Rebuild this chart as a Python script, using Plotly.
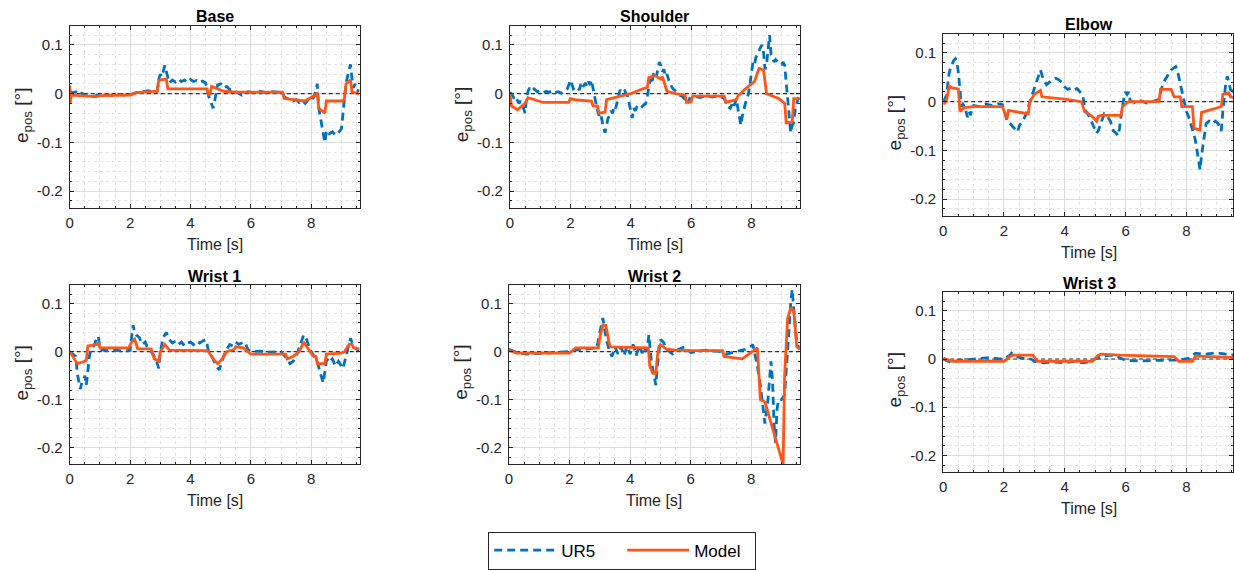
import plotly.graph_objects as go

# ---------------- data ----------------
titles = ["Base", "Shoulder", "Elbow", "Wrist 1", "Wrist 2", "Wrist 3"]

base_t_ur5 = [0.0,0.1,0.2,0.3,0.4,0.5,0.6,0.7,0.8,0.9,1.0,1.2,1.4,1.6,1.8,2.0,2.2,2.4,2.6,2.8,2.9,2.95,3.0,3.05,3.1,3.15,3.2,3.25,3.3,3.4,3.5,3.6,3.7,3.8,3.9,4.0,4.1,4.2,4.3,4.4,4.5,4.55,4.6,4.65,4.7,4.75,4.8,4.85,4.9,5.0,5.1,5.2,5.3,5.4,5.5,5.7,5.9,6.1,6.3,6.5,6.7,6.9,7.05,7.1,7.2,7.3,7.4,7.5,7.6,7.7,7.8,7.9,8.0,8.1,8.15,8.2,8.25,8.3,8.35,8.4,8.45,8.5,8.55,8.6,8.7,8.8,8.9,9.0,9.05,9.1,9.15,9.2,9.25,9.3,9.35,9.4,9.45,9.5,9.6]
base_ur5 = [0.005,0.002,0.004,-0.002,0.001,-0.003,-0.005,-0.002,-0.006,-0.003,-0.004,-0.002,-0.004,-0.001,-0.003,-0.002,0.002,0.004,0.006,0.003,0.006,0.03,0.04,0.035,0.05,0.058,0.045,0.03,0.022,0.028,0.024,0.03,0.025,0.028,0.023,0.029,0.025,0.027,0.023,0.026,0.022,0.01,-0.005,-0.012,-0.02,-0.03,-0.015,0.005,0.018,0.02,0.012,0.015,0.008,0.01,0.004,-0.003,0.004,0.002,0.005,0.002,0.004,0.003,0.004,-0.006,-0.01,-0.012,-0.015,-0.012,-0.018,-0.014,-0.02,-0.012,-0.015,-0.005,0.01,0.02,-0.03,-0.05,-0.07,-0.085,-0.1,-0.08,-0.075,-0.082,-0.078,-0.085,-0.08,-0.072,-0.04,-0.01,0.02,0.035,0.05,0.06,0.03,0.012,0.02,0.008,0.005]
base_t_model = [0.0,0.01,0.05,0.5,0.9,1.0,1.5,2.0,2.2,2.9,2.95,3.2,3.25,4.55,4.6,4.65,4.7,5.0,5.1,5.5,7.05,7.1,7.8,8.2,8.25,8.45,8.5,9.05,9.1,9.15,9.3,9.35,9.6]
base_model = [0.017,-0.02,-0.003,-0.004,-0.006,-0.004,-0.003,-0.003,0.002,0.005,0.028,0.03,0.01,0.01,-0.003,0.0,0.015,0.008,0.005,0.003,0.003,-0.01,-0.015,0.0,-0.03,-0.04,-0.015,-0.015,-0.01,0.02,0.028,0.003,0.0]

shoulder_t_ur5 = [0.0,0.05,0.1,0.15,0.2,0.3,0.35,0.4,0.45,0.5,0.55,0.6,0.65,0.7,0.8,0.9,1.0,1.1,1.2,1.3,1.4,1.5,1.6,1.7,1.8,1.9,1.95,2.0,2.05,2.1,2.2,2.3,2.35,2.4,2.5,2.55,2.6,2.65,2.7,2.75,2.8,2.85,2.9,2.95,3.0,3.05,3.1,3.15,3.2,3.25,3.3,3.35,3.4,3.45,3.5,3.55,3.6,3.65,3.7,3.8,3.9,3.95,4.0,4.05,4.1,4.15,4.2,4.3,4.4,4.5,4.55,4.6,4.65,4.7,4.75,4.8,4.85,4.9,4.95,5.0,5.05,5.1,5.15,5.2,5.3,5.4,5.5,5.6,5.7,5.8,5.85,5.9,5.95,6.0,6.1,6.3,6.5,6.7,6.9,7.1,7.15,7.2,7.3,7.35,7.4,7.45,7.5,7.55,7.6,7.65,7.7,7.75,7.8,7.85,7.9,7.95,8.0,8.05,8.1,8.15,8.2,8.25,8.3,8.35,8.4,8.45,8.5,8.55,8.6,8.65,8.7,8.75,8.8,8.9,9.0,9.05,9.1,9.15,9.2,9.25,9.3,9.35,9.4,9.45,9.5,9.55,9.6]
shoulder_ur5 = [0.003,0.0,-0.005,-0.012,-0.008,-0.02,-0.015,-0.025,-0.03,-0.04,-0.01,0.005,0.012,0.006,0.01,0.004,0.006,0.002,0.005,0.003,0.006,0.002,0.004,0.001,0.006,0.01,0.018,0.028,0.02,0.01,0.015,0.008,0.02,0.012,0.022,0.015,0.025,0.018,0.028,0.01,-0.01,-0.02,-0.035,-0.045,-0.04,-0.06,-0.07,-0.08,-0.06,-0.05,-0.045,-0.035,-0.04,-0.025,-0.03,-0.015,-0.005,0.008,0.002,0.006,-0.005,-0.02,-0.035,-0.05,-0.03,-0.035,-0.028,-0.032,-0.025,-0.02,-0.005,0.01,0.03,0.02,0.04,0.045,0.035,0.05,0.065,0.058,0.045,0.05,0.035,0.04,0.02,0.01,0.005,-0.002,-0.005,-0.012,-0.02,-0.018,-0.01,-0.012,-0.005,-0.008,-0.004,-0.007,-0.004,-0.01,-0.02,-0.025,-0.03,-0.022,-0.03,-0.02,-0.01,-0.03,-0.05,-0.065,-0.045,-0.03,-0.02,-0.01,0.0,0.02,0.04,0.065,0.06,0.075,0.08,0.09,0.095,0.1,0.085,0.05,0.06,0.09,0.12,0.08,0.07,0.065,0.07,0.063,0.06,0.065,0.058,0.02,-0.02,-0.05,-0.08,-0.065,-0.06,-0.03,-0.02,-0.01,-0.012]
shoulder_t_model = [0.0,0.05,0.25,0.5,0.6,0.8,1.1,1.95,2.0,2.2,2.7,2.75,2.9,2.95,3.15,3.2,4.0,4.4,4.55,4.6,4.8,5.0,5.05,5.2,5.5,5.8,5.85,6.0,6.05,7.1,7.15,7.5,7.55,7.8,8.0,8.1,8.25,8.4,8.5,8.9,9.1,9.15,9.35,9.4,9.6]
shoulder_model = [0.0,-0.025,-0.033,-0.02,-0.008,-0.012,-0.018,-0.018,-0.01,-0.013,-0.015,-0.025,-0.025,-0.04,-0.038,-0.012,0.0,0.01,0.013,0.033,0.037,0.03,0.035,0.005,0.0,-0.003,-0.018,-0.017,-0.005,-0.005,-0.018,-0.012,-0.005,0.01,0.02,0.025,0.052,0.048,0.0,-0.01,-0.02,-0.06,-0.058,-0.01,-0.01]

elbow_t_ur5 = [0.0,0.05,0.1,0.15,0.2,0.25,0.3,0.35,0.4,0.45,0.5,0.55,0.6,0.65,0.7,0.75,0.8,0.85,0.9,0.95,1.0,1.2,1.4,1.6,1.8,1.95,2.0,2.1,2.2,2.3,2.4,2.45,2.5,2.6,2.7,2.75,2.8,2.9,2.95,3.05,3.1,3.2,3.25,3.3,3.4,3.5,3.6,3.7,3.8,3.9,4.0,4.1,4.2,4.3,4.4,4.5,4.6,4.65,4.7,4.8,4.9,4.95,5.05,5.1,5.15,5.25,5.3,5.4,5.5,5.6,5.7,5.75,5.8,5.85,5.9,5.95,6.0,6.05,6.1,6.15,6.3,6.5,6.7,6.9,7.1,7.2,7.3,7.35,7.45,7.5,7.6,7.65,7.7,7.75,7.8,7.85,7.9,8.0,8.1,8.2,8.3,8.35,8.4,8.45,8.5,8.55,8.6,8.65,8.75,8.85,8.95,9.05,9.1,9.15,9.2,9.25,9.3,9.35,9.4,9.45,9.55]
elbow_ur5 = [0.0,0.005,0.012,0.035,0.06,0.07,0.078,0.085,0.088,0.08,0.06,0.03,-0.01,-0.005,-0.01,-0.02,-0.032,-0.02,-0.028,-0.012,-0.008,-0.01,-0.005,-0.008,-0.004,-0.006,-0.015,-0.04,-0.045,-0.052,-0.058,-0.062,-0.05,-0.04,-0.03,-0.02,-0.01,0.01,0.02,0.04,0.05,0.065,0.055,0.045,0.035,0.04,0.045,0.048,0.045,0.04,0.03,0.025,0.028,0.024,0.027,0.02,0.01,-0.01,-0.02,-0.03,-0.045,-0.05,-0.065,-0.06,-0.05,-0.03,-0.025,-0.03,-0.04,-0.06,-0.065,-0.07,-0.055,-0.03,-0.01,0.01,0.02,0.015,0.02,0.003,-0.002,0.002,-0.003,0.0,0.005,0.03,0.045,0.05,0.06,0.065,0.07,0.072,0.065,0.05,0.035,0.02,0.005,-0.02,-0.035,-0.06,-0.08,-0.1,-0.12,-0.14,-0.11,-0.09,-0.07,-0.045,-0.04,-0.045,-0.04,-0.045,-0.055,-0.06,-0.02,0.01,0.04,0.052,0.04,0.025,0.02]
elbow_t_model = [0.0,0.1,0.2,0.3,0.5,0.55,0.7,1.0,1.95,2.1,2.15,2.8,2.85,3.0,3.2,3.25,4.0,4.55,4.65,4.9,5.05,5.1,5.2,5.85,5.9,6.1,7.1,7.15,7.5,7.6,7.8,7.85,8.2,8.25,8.45,8.5,8.9,9.15,9.2,9.4,9.45,9.6]
elbow_model = [-0.005,0.0,0.032,0.028,0.026,-0.02,-0.012,-0.01,-0.01,-0.035,-0.018,-0.025,0.0,0.015,0.023,0.01,0.005,0.0,-0.02,-0.03,-0.04,-0.03,-0.028,-0.028,-0.01,0.0,0.0,0.025,0.025,0.01,0.01,-0.01,-0.01,-0.055,-0.058,-0.022,-0.015,-0.01,0.015,0.018,0.01,0.008]

wrist1_t_ur5 = [0.0,0.1,0.2,0.25,0.3,0.35,0.4,0.45,0.5,0.55,0.6,0.65,0.7,0.8,0.85,0.9,0.95,1.0,1.2,1.5,1.8,2.0,2.05,2.1,2.15,2.2,2.3,2.4,2.5,2.6,2.7,2.8,2.9,2.95,3.0,3.1,3.2,3.3,3.4,3.5,3.6,3.7,3.8,3.9,4.0,4.1,4.2,4.3,4.4,4.5,4.55,4.6,4.75,4.85,4.95,5.05,5.15,5.3,5.4,5.5,5.6,5.7,5.8,5.9,6.0,6.3,6.6,7.0,7.2,7.3,7.4,7.5,7.65,7.75,7.85,7.95,8.1,8.2,8.3,8.4,8.5,8.6,8.65,8.7,8.8,8.9,8.95,9.05,9.15,9.25,9.3,9.4,9.5,9.6]
wrist1_ur5 = [0.0,-0.005,-0.01,-0.045,-0.06,-0.078,-0.065,-0.06,-0.05,-0.07,-0.04,-0.01,0.005,0.012,0.02,0.03,0.032,0.005,0.002,0.003,0.001,0.003,0.03,0.055,0.04,0.035,0.03,0.015,0.02,0.005,0.0,-0.01,-0.025,-0.035,0.0,0.03,0.04,0.025,0.018,0.022,0.015,0.02,0.012,0.018,0.02,0.015,0.022,0.018,0.022,0.025,0.015,0.0,-0.015,-0.03,-0.038,-0.02,0.0,0.015,0.012,0.02,0.015,0.018,0.02,0.005,0.0,0.001,-0.001,0.0,-0.015,-0.025,-0.02,-0.01,0.02,0.035,0.025,0.005,-0.01,-0.02,-0.045,-0.065,-0.02,-0.012,-0.018,-0.015,-0.03,-0.02,-0.025,-0.035,-0.01,0.02,0.028,0.01,0.005,0.003]
wrist1_t_model = [0.0,0.15,0.25,0.5,0.55,0.6,0.9,0.95,1.0,1.95,2.05,2.15,2.25,2.7,2.8,2.95,3.0,3.15,3.3,4.55,4.6,4.75,4.9,5.05,5.2,5.45,5.5,5.75,5.9,6.0,7.15,7.2,7.4,7.6,7.75,7.9,8.05,8.15,8.2,8.45,8.5,9.0,9.1,9.25,9.35,9.4,9.6]
wrist1_model = [0.0,-0.015,-0.025,-0.02,-0.018,0.012,0.015,0.018,0.008,0.008,0.02,0.026,0.006,0.006,-0.015,-0.02,0.0,0.015,0.003,0.002,0.0,-0.015,-0.025,-0.015,0.0,0.005,0.01,0.008,0.0,-0.005,-0.005,-0.015,-0.01,0.0,0.02,0.005,-0.008,-0.01,-0.025,-0.025,-0.005,-0.003,0.0,0.015,0.015,0.008,0.006]

wrist2_t_ur5 = [0.0,0.3,0.6,1.0,1.5,2.0,2.1,2.5,2.9,3.0,3.1,3.2,3.3,3.4,3.5,3.6,3.7,3.8,3.9,4.0,4.1,4.2,4.3,4.4,4.45,4.55,4.62,4.7,4.8,4.85,4.9,4.95,5.0,5.1,5.2,5.4,5.6,5.8,6.0,6.5,7.0,7.2,7.5,7.8,8.0,8.05,8.1,8.2,8.3,8.4,8.45,8.55,8.6,8.65,8.7,8.75,8.8,8.85,8.9,9.0,9.1,9.15,9.2,9.25,9.3,9.35,9.4,9.45,9.5,9.6]
wrist2_ur5 = [0.005,-0.003,-0.005,-0.003,-0.002,0.0,0.003,0.005,0.008,0.04,0.07,0.03,0.005,-0.01,0.01,-0.005,0.01,-0.008,0.012,-0.005,0.015,-0.008,0.012,-0.003,0.01,0.0,0.035,-0.02,-0.05,-0.07,-0.03,0.0,0.025,0.02,0.005,-0.005,0.005,0.01,-0.002,0.003,0.0,-0.005,0.0,0.005,0.012,0.015,0.0,-0.03,-0.07,-0.12,-0.15,-0.1,-0.05,-0.02,-0.06,-0.15,-0.19,-0.12,-0.1,-0.1,-0.09,-0.05,0.0,0.05,0.1,0.13,0.09,0.05,0.02,0.005]
wrist2_t_model = [0.0,0.25,2.0,2.1,2.2,2.95,3.0,3.1,3.2,3.3,3.35,4.6,4.65,4.75,4.85,4.9,4.95,5.0,5.2,5.5,6.0,7.05,7.1,7.7,8.2,8.3,8.45,9.05,9.1,9.2,9.3,9.4,9.5,9.6]
wrist2_model = [0.003,-0.003,-0.003,0.003,0.008,0.008,0.03,0.055,0.055,0.02,0.01,0.008,-0.03,-0.045,-0.045,-0.01,0.01,0.015,0.005,0.003,0.002,0.002,-0.01,-0.015,0.008,-0.1,-0.105,-0.235,-0.05,0.07,0.09,0.085,0.01,0.005]

wrist3_t_ur5 = [0.0,0.2,0.3,0.5,0.8,1.0,1.3,1.5,1.8,2.0,2.2,2.25,2.4,2.6,2.9,3.0,3.3,3.6,4.0,4.3,4.6,4.8,5.0,5.2,5.5,5.7,6.0,6.5,7.0,7.5,7.8,8.1,8.3,8.6,9.0,9.3,9.6]
wrist3_ur5 = [0.0,-0.005,-0.008,-0.003,-0.001,0.0,0.002,0.003,0.001,0.0,0.008,0.012,0.005,0.002,0.0,-0.005,-0.008,-0.006,-0.008,-0.005,-0.008,-0.006,0.0,0.005,0.008,0.006,-0.003,-0.004,-0.003,-0.002,-0.002,0.002,0.012,0.01,0.013,0.01,0.008]
wrist3_t_model = [0.0,0.3,2.0,2.2,2.3,2.95,3.1,4.9,5.1,5.2,5.8,7.0,7.6,7.75,8.2,8.3,9.6]
wrist3_model = [0.002,-0.005,-0.005,0.005,0.008,0.008,-0.005,-0.005,0.008,0.01,0.008,0.006,0.005,-0.005,-0.005,0.006,0.003]

ur5_times = [base_t_ur5, shoulder_t_ur5, elbow_t_ur5, wrist1_t_ur5, wrist2_t_ur5, wrist3_t_ur5]
ur5_values = [base_ur5, shoulder_ur5, elbow_ur5, wrist1_ur5, wrist2_ur5, wrist3_ur5]
model_times = [base_t_model, shoulder_t_model, elbow_t_model, wrist1_t_model, wrist2_t_model, wrist3_t_model]
model_values = [base_model, shoulder_model, elbow_model, wrist1_model, wrist2_model, wrist3_model]

x_ticks = [0, 2, 4, 6, 8]
y_ticks = [0.1, 0, -0.1, -0.2]
y_tick_labels = ["0.1", "0", "-0.1", "-0.2"]

# ---------------- layout ----------------
W, H = 1234, 570
FONT = "Liberation Sans, Arial, Helvetica, sans-serif"
TXT = "#262626"
BLUE = "#0072BD"
ORANGE = "#FF5517"

# panel boxes in pixels: left, right, top, bottom
boxes = [(66, 357, 26, 209), (508, 799, 26, 209), (943, 1236, 34, 217),
         (66, 357, 286, 466), (507, 799, 286, 466), (943, 1236, 293, 474)]

fig = go.Figure()
annotations = []
shapes = []
for i in range(6):
    n = "" if i == 0 else str(i + 1)
    l, r, t, b = boxes[i]
    rr = min(r, W)
    xmax = 9.6 * (rr - l) / (r - l)
    # dashed zero reference line (drawn first, under the data)
    fig.add_trace(go.Scatter(x=[0, xmax], y=[0, 0], mode="lines", hoverinfo="skip",
                             line=dict(color="#303030", width=1.2, dash="4px,3px"),
                             showlegend=False, xaxis="x" + n, yaxis="y" + n))
    fig.add_trace(go.Scatter(x=ur5_times[i], y=ur5_values[i], mode="lines", name="UR5",
                             line=dict(color=BLUE, width=2.8, dash="8px,5px"),
                             showlegend=(i == 0), legendrank=1,
                             xaxis="x" + n, yaxis="y" + n))
    fig.add_trace(go.Scatter(x=model_times[i], y=model_values[i], mode="lines", name="Model",
                             line=dict(color=ORANGE, width=2.8),
                             showlegend=(i == 0), legendrank=2,
                             xaxis="x" + n, yaxis="y" + n))
    xd = [l / W, rr / W]
    yd = [1 - b / H, 1 - t / H]
    axcommon = dict(showline=True, mirror="ticks", linecolor=TXT, linewidth=1,
                    ticks="inside", ticklen=4, tickcolor=TXT, tickwidth=1,
                    showgrid=True, gridcolor="#dcdcdc", gridwidth=1, zeroline=False,
                    tickfont=dict(family=FONT, size=15, color=TXT))
    fig.layout["xaxis" + n] = dict(domain=xd, range=[0, xmax], tickvals=x_ticks,
                                   anchor="y" + n, ticklabelstandoff=1,
                                   minor=dict(dtick=0.5, tick0=0, showgrid=True, gridcolor="#e4e4e4",
                                              griddash="dot", ticks="inside", ticklen=2, tickcolor=TXT),
                                   **axcommon)
    fig.layout["yaxis" + n] = dict(domain=yd, range=[-0.235, 0.139], tickvals=y_ticks,
                                   ticktext=y_tick_labels, anchor="x" + n, ticklabelstandoff=3,
                                   minor=dict(dtick=0.02, tick0=0, showgrid=True, gridcolor="#e4e4e4",
                                              griddash="dot", ticks="inside", ticklen=2, tickcolor=TXT),
                                   **axcommon)
    cx = (l + r) / 2
    annotations.append(dict(text="<b>" + titles[i] + "</b>", x=cx / W, y=1 - (t - 9) / H,
                            xref="paper", yref="paper", xanchor="center", yanchor="middle",
                            showarrow=False, font=dict(family=FONT, size=16, color="#000000")))
    annotations.append(dict(text="Time [s]", x=cx / W, y=1 - (b + 36) / H,
                            xref="paper", yref="paper", xanchor="center", yanchor="middle",
                            showarrow=False, font=dict(family=FONT, size=16, color=TXT)))
    annotations.append(dict(text="e<sub>pos</sub> [°]", x=(l - 47) / W, y=1 - ((t + b) / 2 - 2) / H,
                            xref="paper", yref="paper", xanchor="center", yanchor="middle",
                            textangle=-90, showarrow=False,
                            font=dict(family=FONT, size=19, color=TXT)))

fig.update_layout(
    width=W, height=H, margin=dict(l=0, r=0, t=0, b=0),
    paper_bgcolor="white", plot_bgcolor="white",
    font=dict(family=FONT, color=TXT),
    annotations=annotations, shapes=shapes,
    legend=dict(orientation="h", x=0.503, xanchor="center", y=1 - 552.5 / H, yanchor="middle",
                bordercolor="#262626", borderwidth=1, bgcolor="white",
                font=dict(family=FONT, size=17, color="#000000"),
                itemwidth=62, entrywidth=56, traceorder="normal",
                tracegroupgap=0),
)

fig.write_html("out.html")
